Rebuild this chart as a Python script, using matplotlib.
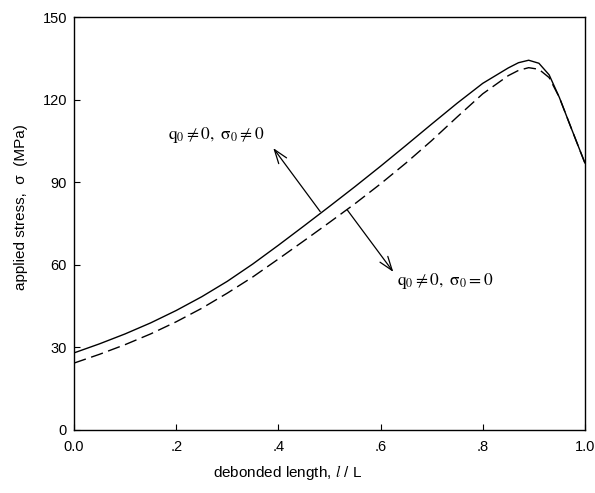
import numpy as np
import matplotlib
matplotlib.use("Agg")
import matplotlib.pyplot as plt

# ---- data ----
x_vals = [0.0, 0.05, 0.1, 0.15, 0.2, 0.25, 0.3, 0.35, 0.4, 0.45, 0.5, 0.55, 0.6,
          0.65, 0.7, 0.75, 0.8, 0.85, 0.87, 0.89, 0.91, 0.93, 0.95, 0.97, 0.99, 1.0]
stress_both = [28.0, 31.3, 34.9, 38.9, 43.4, 48.4, 54.0, 60.3, 67.1, 74.1, 81.2, 88.4, 95.8,
               103.4, 111.1, 118.7, 125.9, 131.5, 133.4, 134.3, 133.2, 129.0, 120.8,
               111.2, 101.7, 97.0]
stress_q_only = [24.3, 27.5, 31.0, 34.9, 39.3, 44.2, 49.7, 55.6, 62.1, 68.7, 75.4, 82.2, 89.4,
                 97.0, 105.1, 113.7, 122.1, 128.7, 130.6, 131.6, 131.0, 128.0, 120.8,
                 111.2, 101.7, 97.0]

x_ticks = [0.0, 0.2, 0.4, 0.6, 0.8, 1.0]
x_tick_labels = ["0.0", ".2", ".4", ".6", ".8", "1.0"]
y_ticks = [0, 30, 60, 90, 120, 150]

plt.rcParams["font.family"] = "Liberation Sans"
plt.rcParams["mathtext.fontset"] = "stix"

fig = plt.figure(figsize=(5.95, 4.93), dpi=100)
ax = fig.add_axes([0.1244, 0.1278, 0.8586, 0.8377])

ax.plot(x_vals, stress_both, color="black", lw=1.0)
ax.plot(x_vals, stress_q_only, color="black", lw=1.0, dashes=(9, 4))

ax.set_xlim(0, 1)
ax.set_ylim(0, 150)
ax.set_xticks(x_ticks)
ax.set_xticklabels(x_tick_labels)
ax.set_yticks(y_ticks)
ax.tick_params(direction="in", length=4, width=0.8, labelsize=10.5, top=False, right=False)
ax.tick_params(axis="x", pad=7)
ax.tick_params(axis="y", pad=5)
for s in ax.spines.values():
    s.set_linewidth(1.0)

# ---- annotations ----
arrow = dict(arrowstyle="->,head_length=1.0,head_width=0.35", color="black", lw=0.9,
             shrinkA=0, shrinkB=0)
ax.annotate("", xy=(0.390, 102.4), xytext=(0.482, 79.3), arrowprops=arrow)
ax.annotate("", xy=(0.625, 57.4), xytext=(0.535, 79.9), arrowprops=arrow)
ax.text(0.184, 107.2, r"$\mathrm{q_0 \neq 0,\ \sigma_0 \neq 0}$", fontsize=12.5,
        va="center", ha="left")
ax.text(0.633, 54.2, r"$\mathrm{q_0 \neq 0,\ \sigma_0 = 0}$", fontsize=12.5,
        va="center", ha="left")

fig.text(288 / 595, 1 - 472 / 493, r"debonded length, $\mathit{l}$ / L",
         ha="center", va="center", fontsize=11)
fig.text(21 / 595, 1 - 207 / 493, "applied stress,  σ  (MPa)",
         ha="center", va="center", rotation=90, fontsize=11)

fig.savefig("out.png", dpi=100)
